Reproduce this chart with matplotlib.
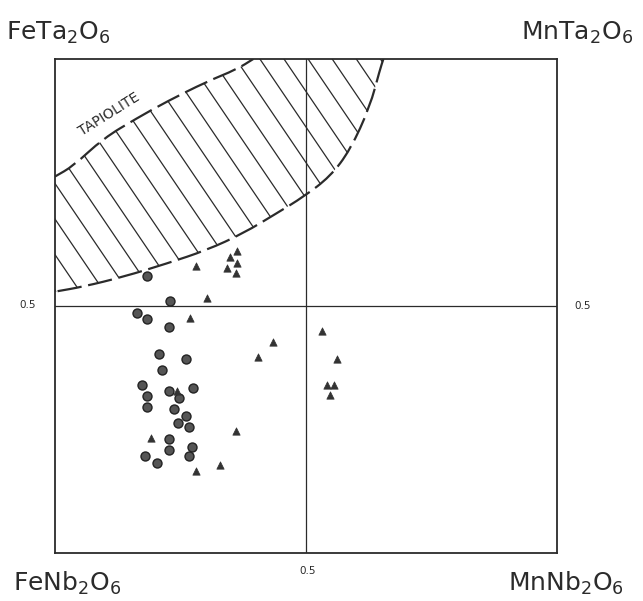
import numpy as np
import matplotlib
matplotlib.use("Agg")
import matplotlib.pyplot as plt
from matplotlib.path import Path
from matplotlib.patches import PathPatch

# Mn/(Mn+Fe) and Ta/(Ta+Nb) for the two groups of analyses
circle_x = [0.184, 0.229, 0.164, 0.184, 0.227, 0.207, 0.260, 0.214, 0.174, 0.184, 0.183, 0.228,
            0.246, 0.274, 0.238, 0.261, 0.244, 0.266, 0.228, 0.228, 0.272, 0.266, 0.179, 0.203]
circle_y = [0.561, 0.511, 0.485, 0.474, 0.458, 0.403, 0.392, 0.371, 0.341, 0.317, 0.296, 0.327,
            0.313, 0.333, 0.292, 0.278, 0.264, 0.255, 0.230, 0.209, 0.215, 0.196, 0.196, 0.183]

tri_x = [0.362, 0.349, 0.363, 0.343, 0.360, 0.281, 0.303, 0.268, 0.435, 0.405, 0.532, 0.562,
         0.541, 0.556, 0.548, 0.361, 0.191, 0.328, 0.281, 0.243]
tri_y = [0.612, 0.600, 0.586, 0.576, 0.566, 0.580, 0.517, 0.475, 0.428, 0.397, 0.450, 0.393,
         0.340, 0.340, 0.320, 0.247, 0.233, 0.178, 0.166, 0.328]

# tapiolite field outline (control points of the hand-drawn curve)
tap_upper = [(0.000, 0.762), (0.036, 0.783), (0.096, 0.839), (0.163, 0.880), (0.223, 0.914),
             (0.302, 0.954), (0.362, 0.979), (0.395, 1.000)]
tap_lower = [(0.654, 1.000), (0.647, 0.978), (0.627, 0.903), (0.588, 0.816), (0.548, 0.762),
             (0.495, 0.721), (0.442, 0.688), (0.375, 0.647), (0.302, 0.613), (0.223, 0.586),
             (0.136, 0.559), (0.056, 0.539), (0.000, 0.529)]

corner_labels = [r"FeTa$_2$O$_6$", r"MnTa$_2$O$_6$", r"FeNb$_2$O$_6$", r"MnNb$_2$O$_6$"]

ink = "#2b2b2b"


def smooth(pts):
    # quadratic bezier through midpoints -> smooth curve
    pts = np.asarray(pts)
    verts = [pts[0], (pts[0] + pts[1]) / 2]
    codes = [Path.MOVETO, Path.LINETO]
    for i in range(1, len(pts) - 1):
        verts += [pts[i], (pts[i] + pts[i + 1]) / 2]
        codes += [Path.CURVE3, Path.CURVE3]
    verts.append(pts[-1])
    codes.append(Path.LINETO)
    return verts, codes


fig = plt.figure(figsize=(6.43, 6.01), dpi=100)
ax = fig.add_axes([0.0855, 0.0799, 0.781, 0.822])
ax.set_xlim(0, 1)
ax.set_ylim(0, 1)
ax.set_xticks([])
ax.set_yticks([])
for s in ax.spines.values():
    s.set_linewidth(1.3)
    s.set_color(ink)

ax.axvline(0.5, color=ink, lw=0.9)
ax.axhline(0.5, color=ink, lw=0.9)

# tapiolite hatched field
uv, uc = smooth(tap_upper)
lv, lc = smooth(tap_lower)
field = Path(uv + lv + [uv[0]], uc + [Path.LINETO] + lc[1:] + [Path.CLOSEPOLY])
clip = PathPatch(field, facecolor="none", edgecolor="none")
ax.add_patch(clip)
slope = -1.5
for x0 in np.arange(-0.6, 0.7, 0.048):
    xs = np.array([x0, x0 + 1.2])
    ln, = ax.plot(xs, 1 + slope * (xs - x0), color=ink, lw=0.9)
    ln.set_clip_path(clip)
for v, c in [(uv, uc), (lv, lc)]:
    ax.add_patch(PathPatch(Path(v, c), facecolor="none", edgecolor=ink, lw=1.6,
                           linestyle=(0, (11, 3))))
ax.text(0.107, 0.887, "TAPIOLITE", rotation=32, fontsize=10, color=ink,
        ha="center", va="center")

ax.scatter(circle_x, circle_y, s=42, marker="o", facecolor="#555555", edgecolor="#222222",
           linewidth=1.0, zorder=3)
ax.scatter(tri_x, tri_y, s=28, marker="^", facecolor="#333333", edgecolor="#333333",
           linewidth=0.5, zorder=3)

# corner compositions
fig.text(0.009, 0.945, corner_labels[0], fontsize=18, color=ink, ha="left", va="center")
fig.text(0.985, 0.945, corner_labels[1], fontsize=18, color=ink, ha="right", va="center")
fig.text(0.020, 0.030, corner_labels[2], fontsize=18, color=ink, ha="left", va="center")
fig.text(0.970, 0.030, corner_labels[3], fontsize=18, color=ink, ha="right", va="center")

# 0.5 marks
fig.text(28 / 643, 1 - 305 / 601, "0.5", fontsize=7.5, color=ink, ha="center", va="center")
fig.text(583 / 643, 1 - 306 / 601, "0.5", fontsize=7.5, color=ink, ha="center", va="center")
fig.text(308 / 643, 1 - 571 / 601, "0.5", fontsize=7.5, color=ink, ha="center", va="center")

fig.savefig("out.png", dpi=100, facecolor="white")
